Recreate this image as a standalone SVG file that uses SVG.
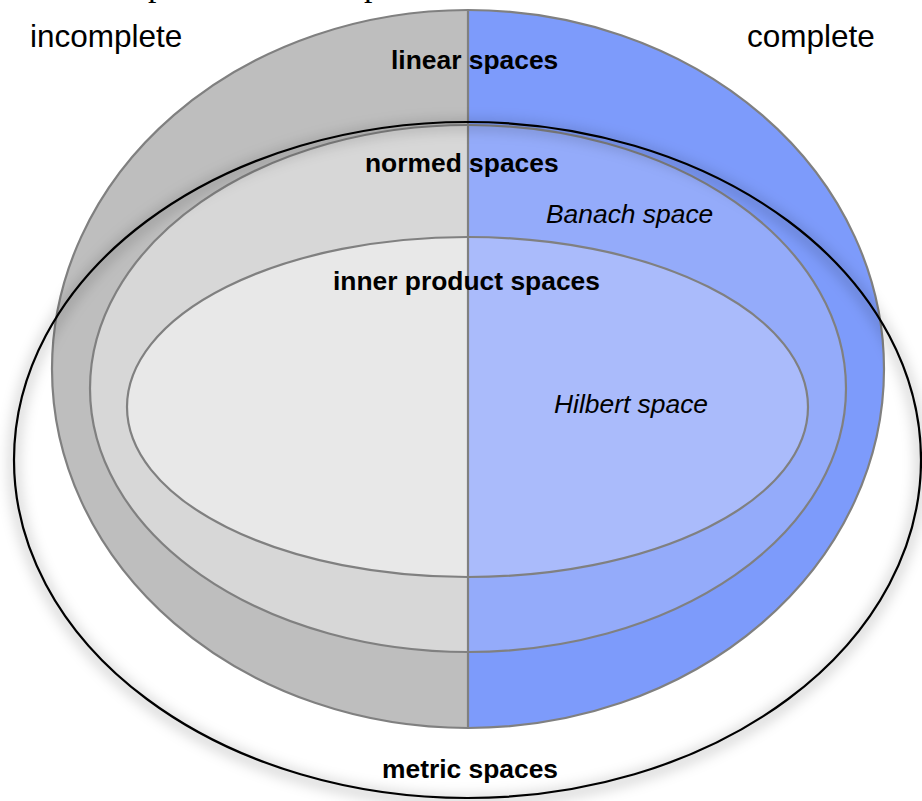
<svg xmlns="http://www.w3.org/2000/svg" width="922" height="801" viewBox="0 0 922 801">
  <style>
    .ring { stroke: #808080; stroke-width: 2.2; }
    .divider { stroke: #808080; stroke-width: 2.2; }
    .metric { fill: none; stroke: #000; stroke-width: 2.2; }
    .lbl { font-family: "Liberation Sans", Arial, sans-serif; fill: #000; }
    .side { font-size: 31.5px; }
    .set { font-size: 26.4px; font-weight: bold; }
    .kind { font-size: 26.4px; font-style: italic; }
    .cut { font-family: "Liberation Serif", "Times New Roman", serif; font-size: 34px; fill: #000; }
  </style>
  <defs>
    <clipPath id="leftHalf"><rect x="0" y="0" width="468" height="801"/></clipPath>
    <clipPath id="rightHalf"><rect x="468" y="0" width="454" height="801"/></clipPath>
    <filter id="soft" x="-10%" y="-10%" width="120%" height="120%">
      <feGaussianBlur stdDeviation="7"/>
    </filter>
  </defs>

  <rect width="922" height="801" fill="#fff"/>

  <!-- title line cut at the top edge -->
  <text class="cut" x="148" y="-4">p</text>
  <text class="cut" x="364" y="-4">p</text>

  <!-- linear spaces -->
  <g id="linear">
    <ellipse cx="468" cy="369" rx="416" ry="359" fill="#bebebe" clip-path="url(#leftHalf)"/>
    <ellipse cx="468" cy="369" rx="416" ry="359" fill="#7d9bfb" clip-path="url(#rightHalf)"/>
    <ellipse class="ring" cx="468" cy="369" rx="416" ry="359" fill="none"/>
  </g>

  <!-- normed spaces -->
  <g id="normed">
    <ellipse cx="468" cy="388.5" rx="378" ry="263.5" fill="#d7d7d7" clip-path="url(#leftHalf)"/>
    <ellipse cx="468" cy="388.5" rx="378" ry="263.5" fill="#94abfa" clip-path="url(#rightHalf)"/>
    <ellipse class="ring" cx="468" cy="388.5" rx="378" ry="263.5" fill="none"/>
  </g>

  <!-- inner product spaces -->
  <g id="inner">
    <ellipse cx="467.5" cy="407" rx="340.5" ry="170" fill="#e8e8e8" clip-path="url(#leftHalf)"/>
    <ellipse cx="467.5" cy="407" rx="340.5" ry="170" fill="#aabbfb" clip-path="url(#rightHalf)"/>
    <ellipse class="ring" cx="467.5" cy="407" rx="340.5" ry="170" fill="none"/>
  </g>

  <!-- complete / incomplete divider -->
  <g id="divider">
    <line class="divider" x1="468" y1="10" x2="468" y2="728"/>
  </g>

  <!-- metric spaces -->
  <g id="metric">
    <ellipse cx="467.5" cy="463" rx="453.5" ry="338" fill="none" stroke="#000" stroke-opacity="0.22" stroke-width="8" filter="url(#soft)"/>
    <ellipse class="metric" cx="467.5" cy="460" rx="453.5" ry="338"/>
  </g>

  <!-- labels -->
  <g id="labels">
    <text class="lbl side" x="30" y="47">incomplete</text>
    <text class="lbl side" x="747" y="47">complete</text>
    <text class="lbl set" x="391" y="69">linear spaces</text>
    <text class="lbl set" x="365" y="172">normed spaces</text>
    <text class="lbl kind" x="546" y="223">Banach space</text>
    <text class="lbl set" x="333" y="290">inner product spaces</text>
    <text class="lbl kind" x="554" y="413">Hilbert space</text>
    <text class="lbl set" x="382" y="778">metric spaces</text>
  </g>
</svg>
